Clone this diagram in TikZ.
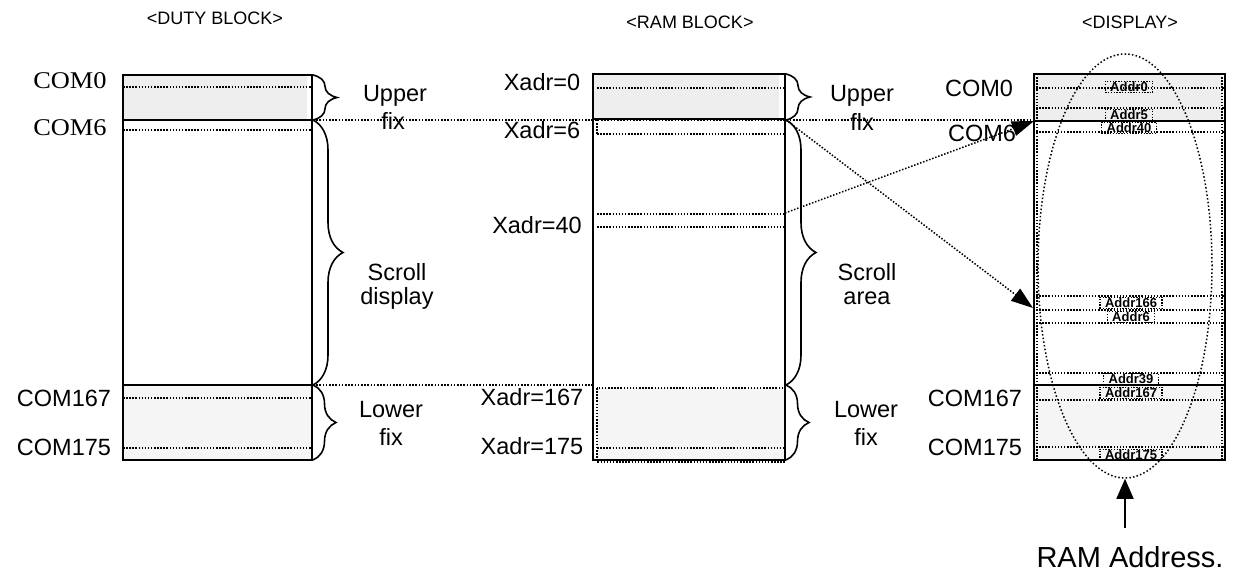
\documentclass[tikz,border=0pt]{standalone}
\usepackage{fontspec}
\setmainfont{Liberation Sans}
\newfontfamily\serifx{Liberation Serif}
\usetikzlibrary{decorations.pathreplacing,arrows.meta,shapes.geometric}
\definecolor{fillA}{HTML}{EEEEEE}
\definecolor{fillB}{HTML}{F5F5F5}
\begin{document}
\begin{tikzpicture}[x=1pt,y=-1pt,
  blk/.style={draw,line width=2pt},
  sepl/.style={line width=2pt},
  dotl/.style={dash pattern=on 1.5pt off 1.6pt,line width=1.5pt},
  brc/.style={decorate,decoration={brace,amplitude=#1},line width=1.6pt},
  lbl/.style={font=\fontsize{23.5}{26}\selectfont,inner sep=0pt,align=center},
  com/.style={font=\serifx\fontsize{24}{26}\selectfont,inner sep=0pt,xscale=1.1},
  hdr/.style={font=\fontsize{18}{20}\selectfont,inner sep=0pt},
  addr/.style={draw,dash pattern=on 1.3pt off 1.5pt,line width=1.3pt,font=\bfseries\fontsize{13}{14}\selectfont,inner xsep=5pt,inner ysep=1pt},
  conn/.style={dash pattern=on 1.5pt off 1.7pt,line width=1.5pt},
  tip/.style={-{Triangle[length=22pt,width=15pt]}}
]
\useasboundingbox (0,0) rectangle (1233,577);

% headers
\node[hdr] (h1) at (215,18) {<DUTY BLOCK>};
\node[hdr] (h2) at (690,22) {<RAM BLOCK>};
\node[hdr] (h3) at (1130,22) {<DISPLAY>};

% ---------------- DUTY block ----------------
\fill[fillA] (123,75) rectangle (307,120);
\fill[fillB] (123,385) rectangle (312,460);
\foreach \y in {87,130,398,448} \draw[dotl] (123,\y) -- (312,\y);
\draw[dotl] (123,75) -- (123,120);
\draw[blk] (123,75) rectangle (312,460);
\draw[sepl] (123,120) -- (312,120);
\draw[sepl] (123,385) -- (312,385);
\coordinate (dTop) at (313,75);
\coordinate (dA) at (313,120);
\coordinate (dB) at (313,385);
\coordinate (dBot) at (313,460);
\draw[brc=24pt] (dTop) -- (dA);
\draw[brc=30pt] (dA) -- (dB);
\draw[brc=23pt] (dB) -- (dBot);

\node[com] (c0) at (70,81) {COM0};
\node[com] (c6) at (70,128) {COM6};
\node[lbl] (c167) at (64,398) {COM167};
\node[lbl] (c175) at (64,447) {COM175};

\node[lbl] (l1) at (395,96) {Upper};
\node[lbl] (l2) at (393,121) {fix};
\node[lbl] (l3) at (397,272) {Scroll};
\node[lbl] (l4) at (397,298) {display};
\node[lbl] (l5) at (391,410) {Lower};
\node[lbl] (l6) at (391,437) {fix};

% ---------------- RAM block ----------------
\fill[fillA] (593,74) rectangle (779,118);
\fill[fillB] (597,388) rectangle (785,460);
\foreach \y in {88,134,214,227,448} \draw[dotl] (597,\y) -- (785,\y);
\draw[dotl] (597,388) rectangle (785,462);
\draw[dotl] (597,120) -- (597,134);
\draw[blk] (593,74) rectangle (785,460);
\draw[sepl] (593,119) -- (785,119);
\coordinate (rTop) at (786,74);
\coordinate (rA) at (786,120);
\coordinate (rB) at (786,385);
\coordinate (rBot) at (786,460);
\coordinate (r40) at (785,213);
\coordinate (rL) at (593,385);
\draw[brc=24pt] (rTop) -- (rA);
\draw[brc=30pt] (rA) -- (rB);
\draw[brc=23pt] (rB) -- (rBot);

\node[lbl] (x0) at (542,82) {Xadr=0};
\node[lbl] (x6) at (542,130) {Xadr=6};
\node[lbl] (x40) at (537,225) {Xadr=40};
\node[lbl] (x167) at (532,397) {Xadr=167};
\node[lbl] (x175) at (532,446) {Xadr=175};

\node[lbl] (m1) at (862,96) {Upper};
\node[lbl] (m2) at (862,122) {flx};
\node[lbl] (m3) at (867,272) {Scroll};
\node[lbl] (m4) at (867,298) {area};
\node[lbl] (m5) at (866,410) {Lower};
\node[lbl] (m6) at (866,437) {fix};

% ---------------- DISPLAY ----------------
\fill[fillA] (1034,74) rectangle (1222,121);
\fill[fillB] (1034,385) rectangle (1225,460);
\foreach \y in {88,108,132,296,310,323,373,400,447} \draw[dotl] (1036,\y) -- (1225,\y);
\draw[dotl] (1037,74) -- (1037,460);
\draw[dotl] (1222,74) -- (1222,460);
\draw[blk] (1034,74) rectangle (1225,460);
\draw[sepl] (1034,121) -- (1225,121);
\draw[sepl] (1034,385) -- (1225,385);
\coordinate (sA) at (1034,121);
\coordinate (sT) at (1034,120);
\coordinate (s166) at (1033,308);

\node[draw,dash pattern=on 1.5pt off 2.2pt,line width=1.5pt,ellipse,minimum width=174pt,minimum height=424pt,inner sep=0pt] (ell) at (1125,266) {};

\node[addr] (a0) at (1129,87) {Addr0};
\node[addr] (a5) at (1129,115) {Addr5};
\node[addr] (a40) at (1129,128) {Addr40};
\node[addr] (a166) at (1131,303) {Addr166};
\node[addr] (a6) at (1131,317) {Addr6};
\node[addr] (a39) at (1131,379) {Addr39};
\node[addr] (a167) at (1131,393) {Addr167};
\node[addr] (a175) at (1131,455) {Addr175};

\node[lbl] (dc0) at (979,88) {COM0};
\node[lbl] (dc6) at (982,133) {COM6};
\node[lbl] (dc167) at (975,398) {COM167};
\node[lbl] (dc175) at (975,447) {COM175};

% ---------------- connectors ----------------
\draw[conn] (dA) -- (sT);
\draw[conn] (dB) -- (rL);
\draw[conn,tip] (rA) -- (s166);
\draw[conn,tip] (r40) -- (sA);

\coordinate (ramsrc) at (1125,528);
\draw[line width=1.6pt,-{Triangle[length=20pt,width=17pt]}] (ramsrc) -- (ell.south);
\node[font=\fontsize{29}{31}\selectfont,inner sep=0pt] (ra) at (1130,557) {RAM Address.};
\end{tikzpicture}
\end{document}
